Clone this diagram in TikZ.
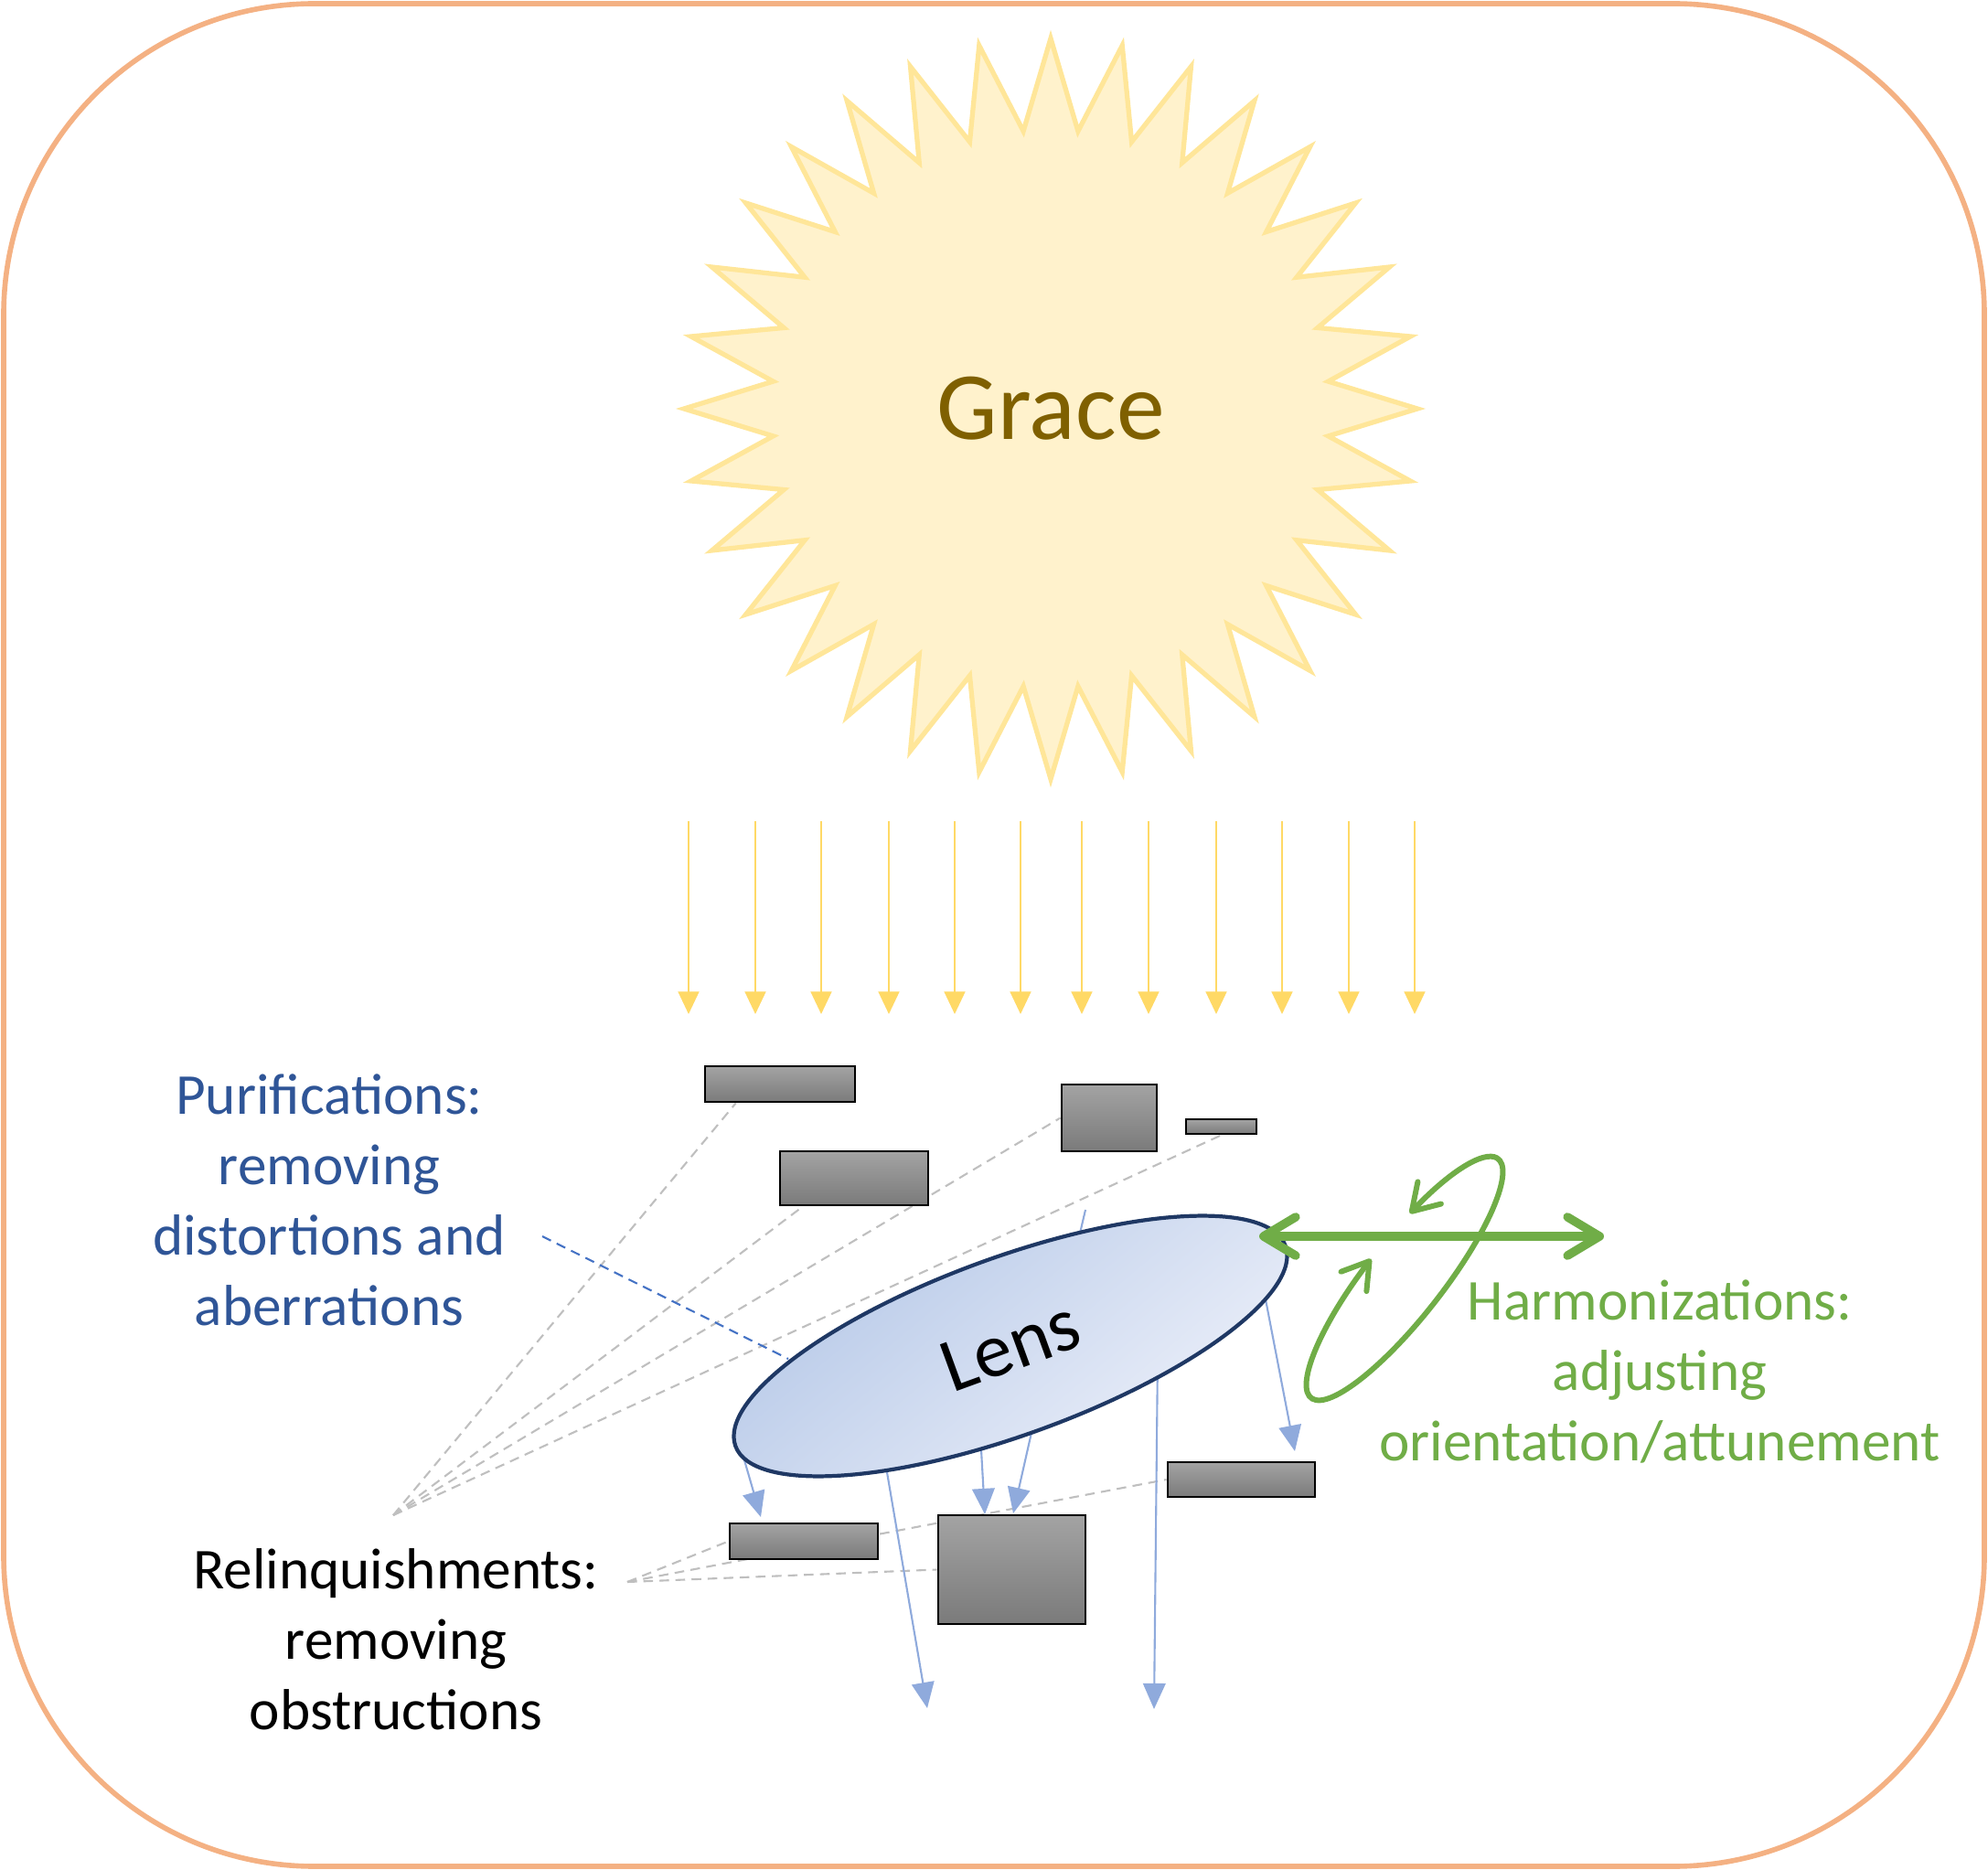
\documentclass[tikz,border=0pt]{standalone}
\usepackage{fontspec}
\setmainfont{Carlito}
\usetikzlibrary{arrows.meta,shapes.geometric,calc,backgrounds}
\definecolor{framecol}{HTML}{F4B183}
\definecolor{sunfill}{HTML}{FFF2CC}
\definecolor{sunline}{HTML}{FFE699}
\definecolor{gracecol}{HTML}{7F6000}
\definecolor{raycol}{HTML}{FFD966}
\definecolor{lightraycol}{HTML}{8FAADC}
\definecolor{lensline}{HTML}{1F3864}
\definecolor{lensleft}{HTML}{B4C7E7}
\definecolor{lensright}{HTML}{EEF1FA}
\definecolor{purcol}{HTML}{2F5597}
\definecolor{purline}{HTML}{4472C4}
\definecolor{harmcol}{HTML}{70AD47}
\definecolor{greyline}{HTML}{BFBFBF}

\begin{document}
\begin{tikzpicture}
  \tikzstyle{sunstar}=[fill=sunfill,draw=sunline,line width=1.5pt]
  \tikzstyle{sunray}=[raycol,line width=0.6pt,-{Triangle[length=7pt,width=6.5pt]}]
  \tikzstyle{obstacle}=[draw=black,line width=0.8pt,top color=black!36,bottom color=black!52,inner sep=0pt]
  \tikzstyle{lens}=[ellipse,draw=lensline,line width=1.2pt,left color=lensleft,middle color=lensleft!85!lensright,right color=lensright,shading angle=40,minimum width=6.4cm,minimum height=1.94cm,inner sep=0pt,rotate=20,font=\fontsize{24}{29}\selectfont]
  \tikzstyle{lightray}=[lightraycol,line width=0.6pt,-{Triangle[length=8pt,width=7pt]}]
  \tikzstyle{tieline}=[greyline,line width=0.6pt,dash pattern=on 3pt off 2pt]
  \tikzstyle{purpointer}=[purline,line width=0.6pt,dash pattern=on 3pt off 2pt]
  \tikzstyle{remark}=[align=center,font=\fontsize{18}{21.9}\selectfont]
  \tikzstyle{harmarrow}=[harmcol,line width=2.7pt,line cap=round,{Straight Barb[round,length=10pt,width=12pt]}-{Straight Barb[round,length=10pt,width=12pt]}]
  \tikzstyle{harmloop}=[harmcol,line width=1.7pt,line cap=round,{Straight Barb[round,length=8pt,width=10pt]}-{Straight Barb[round,length=8pt,width=10pt]}]

  \useasboundingbox (0,0) rectangle (21.74,-20.45);
  \draw[framecol,line width=1.6pt,rounded corners=3.4cm] (0.04,-0.04) rectangle (21.70,-20.41);

  \coordinate (sun) at (11.49,-4.47);
  \draw[sunstar,shift={(sun)}] (90:4.01 and 4.05)
    \foreach \k in {1,...,32} {-- ({90+(2*\k-1)*5.625}:3.05) -- ({90+2*\k*5.625}:4.01 and 4.05)} -- cycle;
  \node[gracecol,font=\fontsize{30}{36}\selectfont] (grace) at (sun) {Grace};

  \foreach \x [count=\i] in {7.53,8.26,8.98,9.72,10.44,11.16,11.83,12.56,13.30,14.02,14.75,15.47} {
    \coordinate (t\i) at (\x,-8.98);
    \coordinate (s\i) at (\x,-11.09);
    \draw[sunray] (t\i) -- (s\i);
  }

  \node[obstacle,minimum width=1.64cm,minimum height=0.39cm] (b1) at (8.53,-11.855) {};
  \node[obstacle,minimum width=1.62cm,minimum height=0.59cm] (b2) at (9.34,-12.885) {};
  \node[obstacle,minimum width=1.04cm,minimum height=0.73cm] (b3) at (12.13,-12.225) {};
  \node[obstacle,minimum width=0.77cm,minimum height=0.16cm] (b4) at (13.355,-12.32) {};
  \node[obstacle,minimum width=1.61cm,minimum height=0.38cm] (b5) at (13.575,-16.18) {};
  \node[obstacle,minimum width=1.62cm,minimum height=0.39cm] (b6) at (8.79,-16.855) {};
  \node[obstacle,minimum width=1.61cm,minimum height=1.19cm] (b7) at (11.065,-17.165) {};

  \node[lens] (lens) at (11.05,-14.72) {Lens};

  \coordinate (rv1) at (4.30,-16.57);
  \coordinate (rv2) at (6.86,-17.30);
  \coordinate (pd1) at (5.93,-13.52);
  \coordinate (pd2) at (8.62,-14.86);
  \begin{scope}[on background layer]
    \draw[tieline] (rv1) -- ($(b1.south west)!0.21!(b1.south east)$);
    \draw[tieline] (rv1) -- ($(b2.south west)!0.16!(b2.south east)$);
    \draw[tieline] (rv1) -- (b3.west);
    \draw[tieline] (rv1) -- (b4.south);
    \draw[tieline] (rv2) -- (b6.west);
    \draw[tieline] (rv2) -- (b7.west);
    \draw[tieline] (rv2) -- (b5.west);
    \draw[purpointer] (pd1) -- (pd2);
    \coordinate (l1a) at (8.08,-15.76);  \coordinate (l1b) at (8.32,-16.59);
    \coordinate (l2a) at (9.64,-15.75);  \coordinate (l2b) at (10.14,-18.68);
    \coordinate (l3a) at (10.71,-15.50); \coordinate (l3b) at (10.77,-16.56);
    \coordinate (l4a) at (11.34,-15.40); \coordinate (l4b) at (11.08,-16.55);
    \coordinate (l5a) at (12.66,-14.80); \coordinate (l5b) at (12.62,-18.69);
    \coordinate (l6a) at (13.78,-13.90); \coordinate (l6b) at (14.16,-15.87);
    \coordinate (l0a) at (11.87,-13.23); \coordinate (l0b) at (11.76,-13.70);
    \draw[lightray] (l1a) -- (l1b);
    \draw[lightray] (l2a) -- (l2b);
    \draw[lightray] (l3a) -- (l3b);
    \draw[lightray] (l4a) -- (l4b);
    \draw[lightray] (l5a) -- (l5b);
    \draw[lightray] (l6a) -- (l6b);
    \draw[lightraycol,line width=0.6pt] (l0a) -- (l0b);
  \end{scope}

  \node[remark,purcol] (puri) at (3.60,-13.12) {Purifications:\\removing\\distortions and\\aberrations};
  \node[remark] (reli) at (4.33,-17.93) {Relinquishments:\\removing\\obstructions};
  \node[remark,harmcol] (harm) at (18.15,-15.00) {Harmonizations:\\adjusting\\orientation/attunement};

  \coordinate (h1) at (13.77,-13.52);
  \coordinate (h2) at (17.54,-13.52);
  \draw[harmarrow] (h1) -- (h2);
  \begin{scope}[shift={(15.36,-13.98)},rotate=52]
    \draw[harmloop] (92:1.66 and 0.42) arc[start angle=92,end angle=429,x radius=1.66,y radius=0.42];
  \end{scope}
\end{tikzpicture}
\end{document}
